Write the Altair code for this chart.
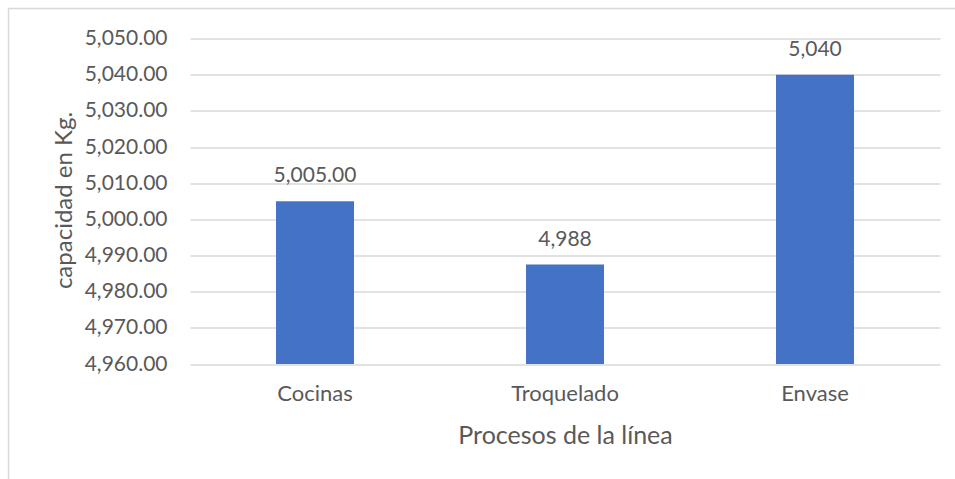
import altair as alt
import pandas as pd

# Capacity per process line (kg)
procesos = ["Cocinas", "Troquelado", "Envase"]
capacidad = [5005.0, 4987.5, 5040.0]
decimales = [2, 0, 0]  # number format used for each bar's value label

y_ticks = [4960, 4970, 4980, 4990, 5000, 5010, 5020, 5030, 5040, 5050]
y_base = 4960

df = pd.DataFrame({
    "proceso": procesos,
    "capacidad": capacidad,
    "base": [y_base] * len(procesos),
    "etiqueta": [f"{v:,.{d}f}" for v, d in zip(capacidad, decimales)],
})

FONT = "Lato"
TEXT = "#595959"
GRID = "#D9D9D9"
BAR = "#4472C4"

x_enc = alt.X(
    "proceso:N",
    sort=procesos,
    title="Procesos de la línea",
    axis=alt.Axis(
        labelAngle=0,
        labelFont=FONT,
        labelFontSize=22,
        labelColor=TEXT,
        labelPadding=19,
        labelBaseline="top",
        ticks=False,
        domain=False,
        grid=False,
        titleFont=FONT,
        titleFontSize=25,
        titleFontWeight="normal",
        titleColor=TEXT,
        titleBaseline="middle",
        titleY=71,
    ),
    scale=alt.Scale(paddingInner=0, paddingOuter=0),
)

y_enc = alt.Y(
    "capacidad:Q",
    title="capacidad en Kg.",
    scale=alt.Scale(domain=[4960, 5050], nice=False, zero=False),
    axis=alt.Axis(
        values=y_ticks,
        format=",.2f",
        labelFont=FONT,
        labelFontSize=21,
        labelColor=TEXT,
        labelPadding=23,
        ticks=False,
        domain=False,
        grid=True,
        gridColor=GRID,
        gridWidth=1.5,
        titleFont=FONT,
        titleFontSize=24,
        titleFontWeight="normal",
        titleColor=TEXT,
        titleBaseline="middle",
        titleX=-126,
        titleY=161.5,
    ),
)

frame = alt.Chart(pd.DataFrame({"k": [0]})).mark_rect(
    fill=None, stroke=GRID, strokeWidth=1.5
).encode(
    x=alt.value(-181.5), x2=alt.value(820),
    y=alt.value(-30), y2=alt.value(520),
)

bars = alt.Chart(df).mark_bar(width=78, color=BAR).encode(
    x=x_enc, y=y_enc, y2="base:Q"
)

labels = alt.Chart(df).mark_text(
    font=FONT, fontSize=21, color=TEXT, baseline="alphabetic", dy=-19
).encode(x=x_enc, y=y_enc, text="etiqueta:N")

chart = alt.layer(frame, bars, labels).properties(
    width=750,
    height=325.5,
    autosize=alt.AutoSizeParams(type="none"),
    padding={"left": 190, "top": 38.5, "right": 15, "bottom": 115},
    background="white",
).configure_view(stroke=None)

chart.save("out.html", embed_options={"renderer": "svg", "actions": False})
